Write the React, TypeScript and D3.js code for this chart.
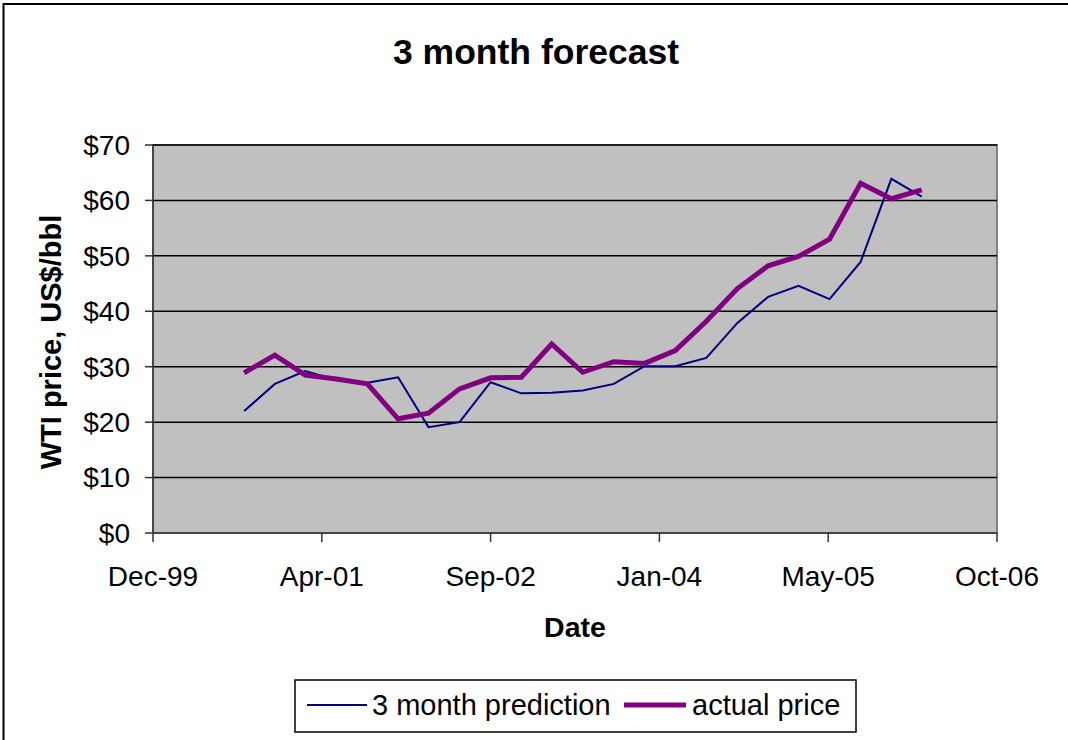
import React from "react";
import * as d3 from "d3";

const dates: Date[] = [
  new Date(2000, 8, 1), new Date(2000, 11, 1), new Date(2001, 2, 1), new Date(2001, 5, 1),
  new Date(2001, 8, 1), new Date(2001, 11, 1), new Date(2002, 2, 1), new Date(2002, 5, 1),
  new Date(2002, 8, 1), new Date(2002, 11, 1), new Date(2003, 2, 1), new Date(2003, 5, 1),
  new Date(2003, 8, 1), new Date(2003, 11, 1), new Date(2004, 2, 1), new Date(2004, 5, 1),
  new Date(2004, 8, 1), new Date(2004, 11, 1), new Date(2005, 2, 1), new Date(2005, 5, 1),
  new Date(2005, 8, 1), new Date(2005, 11, 1), new Date(2006, 2, 1),
];

const prediction: number[] = [
  22.0, 26.9, 29.2, 27.6, 27.1, 28.1, 19.1, 20.0, 27.2, 25.2, 25.3, 25.7,
  26.9, 30.1, 30.1, 31.6, 37.9, 42.6, 44.6, 42.2, 48.9, 63.9, 60.7,
];

const actual: number[] = [
  28.9, 32.1, 28.5, 27.8, 26.9, 20.6, 21.6, 26.0, 28.0, 28.1, 34.1, 29.0,
  30.9, 30.6, 32.9, 38.2, 44.1, 48.2, 49.9, 53.0, 63.1, 60.3, 61.9,
];

const xTickDates: Date[] = [
  new Date(1999, 11, 6), new Date(2001, 3, 19), new Date(2002, 8, 1),
  new Date(2004, 0, 14), new Date(2005, 4, 28), new Date(2006, 9, 10),
];
const xTickLabels: string[] = ["Dec-99", "Apr-01", "Sep-02", "Jan-04", "May-05", "Oct-06"];
const yTicks: number[] = [0, 10, 20, 30, 40, 50, 60, 70];

const seriesNames: string[] = ["3 month prediction", "actual price"];

const FONT = "'Liberation Sans', Arial, sans-serif";

export default function App() {
  const W = 1068, H = 740;
  const left = 153, right = 997, top = 145, bottom = 533;

  const x = d3.scaleTime().domain([xTickDates[0], xTickDates[xTickDates.length - 1]]).range([left, right]);
  const y = d3.scaleLinear().domain([0, 70]).range([bottom, top]);

  const line = d3.line<[Date, number]>().x((d) => x(d[0])).y((d) => y(d[1]));
  const predPath = line(dates.map((d, i) => [d, prediction[i]] as [Date, number])) || "";
  const actPath = line(dates.map((d, i) => [d, actual[i]] as [Date, number])) || "";

  return (
    <svg width={W} height={H} style={{ position: "absolute", left: 0, top: 0, background: "#fff" }} fontFamily={FONT}>
      <rect x={0} y={0} width={W} height={H} fill="#fff" />
      <rect x={3.5} y={4} width={1200} height={900} fill="none" stroke="#000" strokeWidth={2} />

      <text x={536} y={64} textAnchor="middle" fontSize={35.5} fontWeight="bold">3 month forecast</text>

      <rect x={left} y={top} width={right - left} height={bottom - top} fill="#C0C0C0" stroke="#808080" strokeWidth={2} />

      {yTicks.slice(1).map((t) => (
        <line key={"g" + t} x1={left} x2={right} y1={y(t)} y2={y(t)} stroke="#000" strokeWidth={1.5} />
      ))}

      <line x1={left} x2={left} y1={top} y2={bottom} stroke="#333" strokeWidth={1.5} />
      <line x1={left} x2={right} y1={bottom} y2={bottom} stroke="#333" strokeWidth={1.5} />

      {yTicks.map((t) => (
        <g key={"y" + t}>
          <line x1={left - 8} x2={left} y1={y(t)} y2={y(t)} stroke="#333" strokeWidth={1.5} />
          <text x={130} y={y(t)} dy="0.35em" textAnchor="end" fontSize={28}>{"$" + t}</text>
        </g>
      ))}

      {xTickDates.map((d, i) => (
        <g key={"x" + i}>
          <line x1={x(d)} x2={x(d)} y1={bottom} y2={bottom + 9} stroke="#333" strokeWidth={1.5} />
          <text x={x(d)} y={586} textAnchor="middle" fontSize={28}>{xTickLabels[i]}</text>
        </g>
      ))}

      <text x={575} y={637} textAnchor="middle" fontSize={28.5} fontWeight="bold">Date</text>
      <text transform="translate(61,342) rotate(-90)" textAnchor="middle" fontSize={29} fontWeight="bold">WTI price, US$/bbl</text>

      <path d={predPath} fill="none" stroke="#000080" strokeWidth={2} strokeLinejoin="miter" />
      <path d={actPath} fill="none" stroke="#800080" strokeWidth={5} strokeLinejoin="miter" />

      <rect x={295} y={680} width={561} height={52} fill="#fff" stroke="#000" strokeWidth={1.5} />
      <line x1={307} x2={367} y1={705} y2={705} stroke="#000080" strokeWidth={2} />
      <text x={372} y={715} fontSize={29}>{seriesNames[0]}</text>
      <line x1={624} x2={686} y1={705} y2={705} stroke="#800080" strokeWidth={5} />
      <text x={692} y={715} fontSize={29}>{seriesNames[1]}</text>
    </svg>
  );
}
